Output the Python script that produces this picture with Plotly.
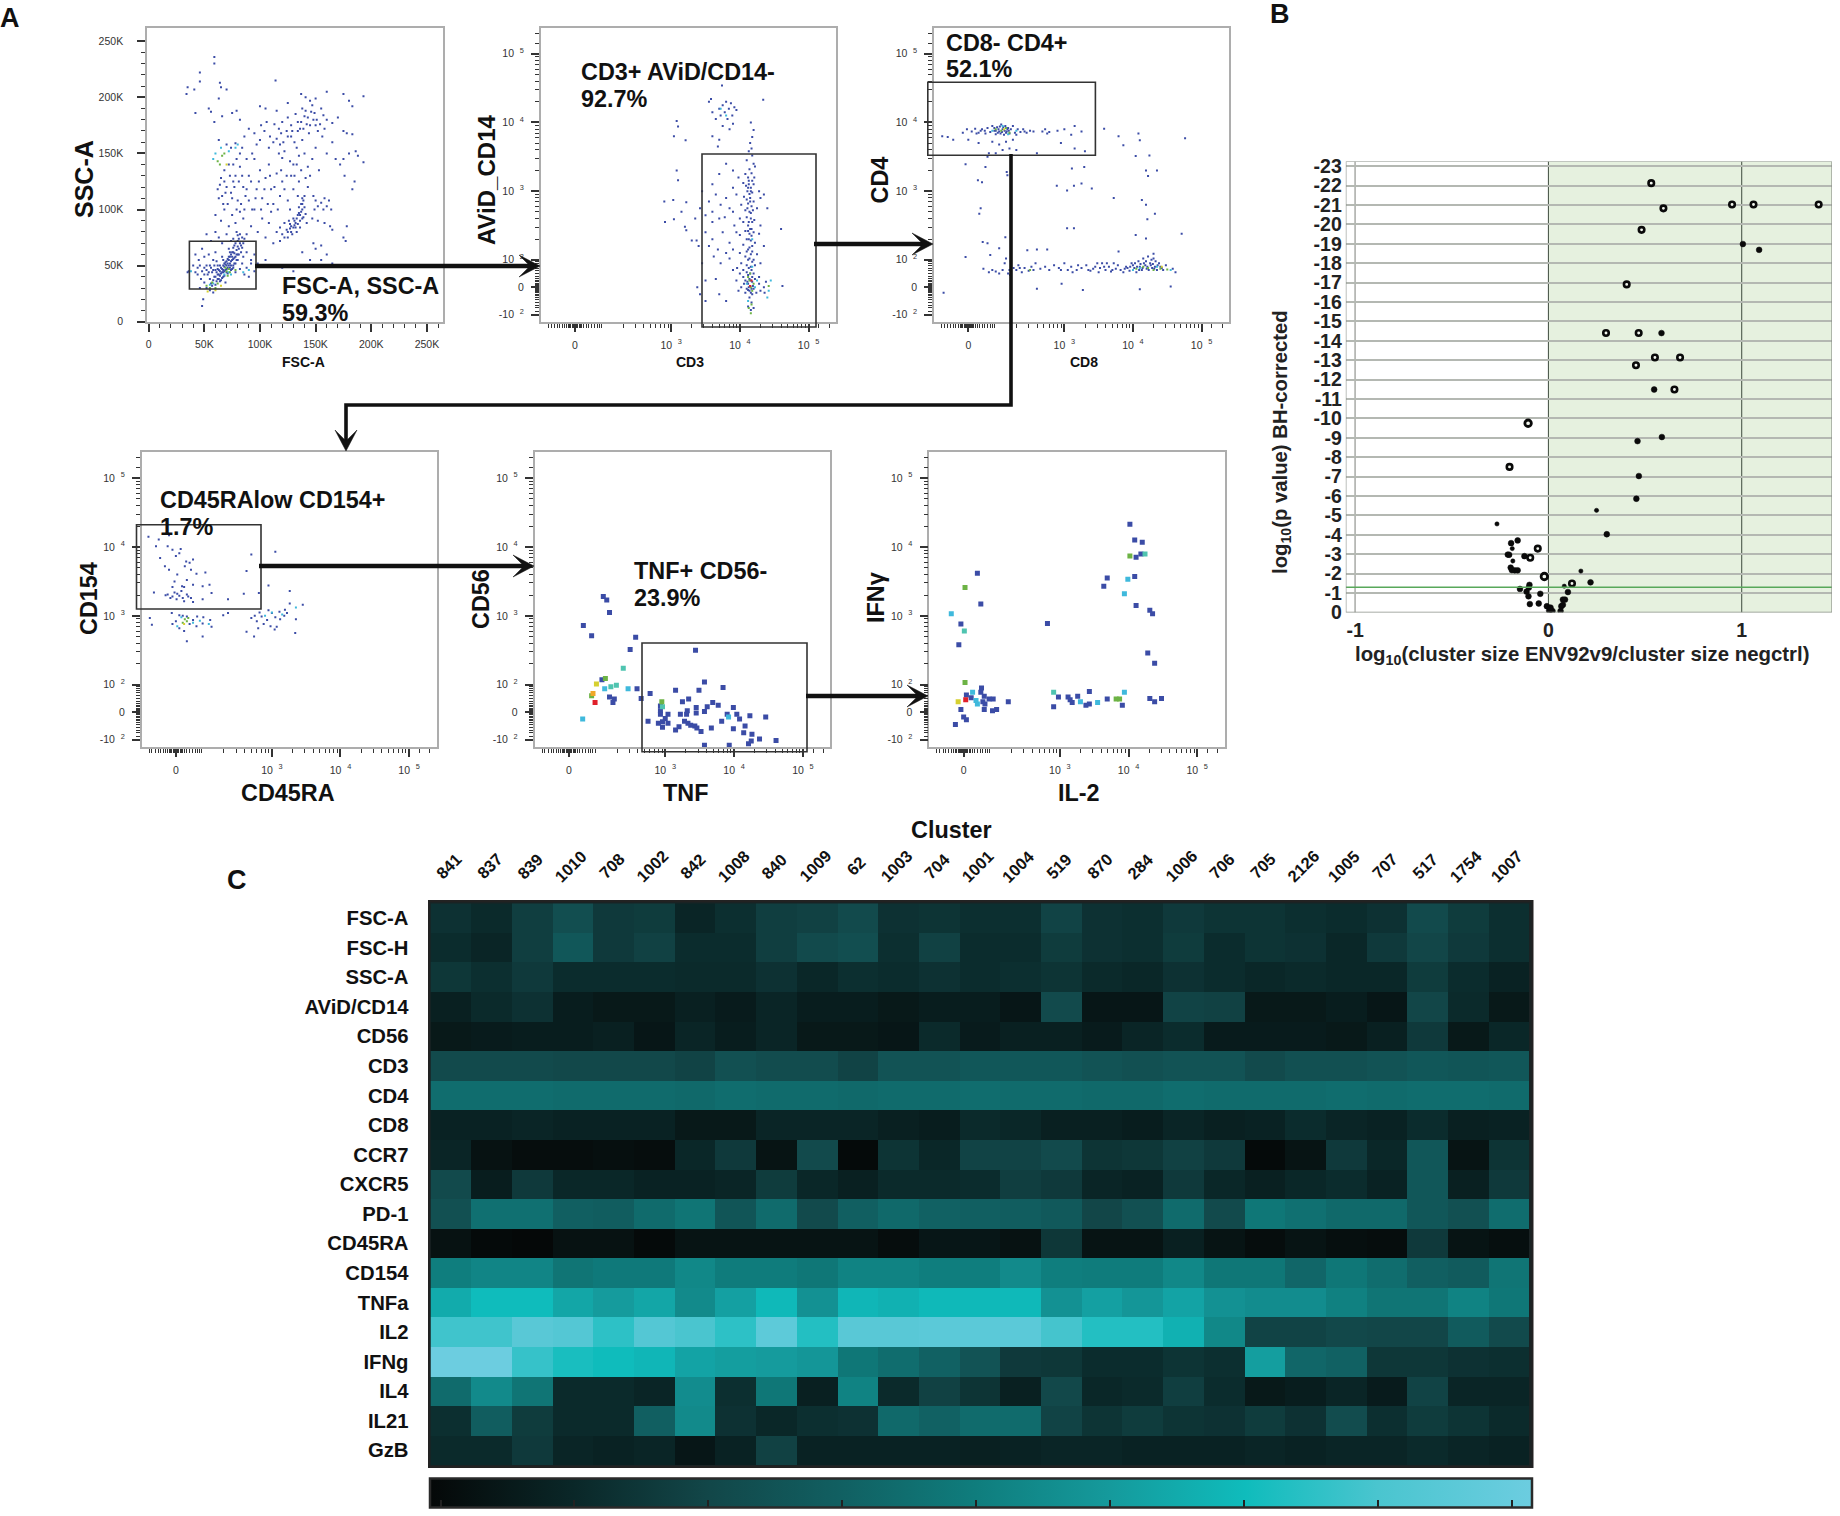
import numpy as np
import plotly.graph_objects as go

W, H = 1840, 1516
FONT = "Liberation Sans"

# ----------------------------------------------------------------------------
# Panel A data. FSC/SSC panel is in thousands, the
# others in display decades of the biexponential axis (3 = 10^3, 1.6 = 0)
# ----------------------------------------------------------------------------

fsc_blue = [
    (59,236),(59,230),(46,222),(46,214),(35,209),(41,207),(34,203),(64,213),(65,209),(70,207),(114,215),(63,199),
    (54,190),(56,187),(42,186),(59,178),(66,183),(75,186),(79,188),(82,180),(100,192),(105,190),(115,188),(125,195),
    (137,203),(141,200),(145,197),(150,199),(160,205),(175,203),(180,197),(183,192),(193,201),
    (120,178),(125,182),(128,175),(132,185),(134,178),(136,172),(138,190),(140,183),(142,176),(144,168),(146,187),
    (148,180),(150,175),(152,170),(155,190),(157,184),(158,172),(160,180),(165,177),(170,182),(175,170),(178,168),
    (183,167),(188,148),(186,152),(180,150),(175,145),(193,142),(185,125),(183,118),(176,130),(172,140),
    (63,162),(70,158),(74,155),(78,159),(82,150),(86,165),(90,172),(95,168),(100,162),(104,170),(108,155),(112,160),
    (115,163),(117,150),(118,158),(120,146),(122,152),(125,165),(127,143),(129,170),(130,140),(133,155),(135,148),
    (138,162),(140,150),(143,138),(147,145),(150,155),(153,135),(160,150),(165,160),(168,145),
    (65,128),(68,135),(70,120),(72,140),(74,115),(76,125),(78,130),(80,108),(82,138),(85,120),(87,112),(90,130),
    (92,125),(95,145),(97,118),(100,135),(102,110),(105,128),(108,140),(110,118),(112,105),(115,132),(118,112),
    (120,125),(125,108),(128,130),(130,118),(133,140),(135,125),(138,105),(140,112),(143,120),
    (148,112),(150,108),(152,103),(155,106),(157,100),(158,110),(160,103),(162,108),(164,100),(149,100),
    (115,80),(118,84),(120,78),(122,88),(124,82),(126,90),(128,85),(130,92),(132,88),(134,95),(136,90),(138,100),
    (133,80),(129,78),(125,75),(127,83),(131,86),(135,97),(137,105),(139,93),(122,75),(118,72),
    (60,95),(65,90),(68,100),(72,85),(75,95),(78,88),(82,98),(85,92),(88,78),(92,85),(95,100),(98,80),(102,92),
    (105,75),(108,88),(110,98),(112,70),(142,88),(147,92),(152,90),(158,88),(163,85),(165,82),(177,72),(175,75),
    (178,85),(148,70),(150,65),(155,68),(160,60),(138,62),(145,55),(155,55),(165,52),
    (52,78),(56,72),(60,80),(63,75),(66,70),(70,78),(74,72),(77,68),(79,80),(81,74),(76,62),(72,65),(80,60),(83,68),
    (85,58),(88,62),(92,55),(95,60),(98,52),(105,55),(110,50),(120,48),(130,45),
    (42,60),(45,55),(40,50),(48,65),(50,58),(52,50),(54,60),(56,48),(58,55),(60,62),(62,50),(64,45),(66,58),(68,52),
    (70,47),(72,55),(74,60),(76,50),(78,44),(80,55),(82,47),(84,52),(86,42),(88,48),(90,40),(44,42),(47,38),(50,35),
    (53,42),(55,38),(57,32),(59,40),(61,36),(63,42),(65,37),(67,40),(69,35),(52,30),(55,28),(58,26),(46,30),(92,52),
    (95,45),(36,45),(35,44),(62,47),(64,50),(65,43),(66,47),(67,44),(68,49),(69,46),(70,50),(71,43),(72,47),(73,52),
    (74,46),(75,55),(76,48),(77,57),(78,52),(79,60),(75,62),(73,58),(71,56),(69,53),(67,55),(48,14),(49,20),
    (60,40),(61,44),(62,42),(63,46),(63,38),(64,41),(65,48),(66,44),(66,39),(67,50),(67,46),(68,45),(68,41),(69,51),
    (70,44),(70,54),(71,48),(71,52),(72,50),(72,58),(73,48),(73,62),(74,54),(74,50),(75,58),(75,47),(76,56),(76,66),
    (77,52),(77,61),(78,58),(78,70),(79,55),(79,64),(80,67),(80,72),(81,60),(81,65),(82,70),(83,62),(84,66),(85,70),
    (86,74),(84,75),(80,77),(76,74),(82,78),
    (50,42),(52,46),(54,44),(55,50),(57,44),(58,46),(59,50),(60,46),(61,54),(48,45),(46,50),(44,48),(42,44),(50,48),
    (56,34),(58,37),(60,33),(62,38),(64,36),
    (125,80),(127,87),(128,80),(130,84),(131,90),(132,84),(133,92),(134,87),(135,102),(136,95),(136,84),(137,98),
    (138,92),(139,108),(140,102),(141,96),(138,110),
    (62,118),(63,110),(64,122),(66,112),(67,105),(68,125),(69,115),(71,105),(73,130),(75,110),(77,120),(79,100),
    (81,125),(83,105),(84,130),(86,100),(88,118),(90,108),(93,100),(96,110),(99,125),(101,100),(104,118),(107,105),
    (109,130),(113,120),(116,100),(119,135),(122,118),(124,130),(127,100),(131,130),(134,112),(137,135),(141,128),(145,130),
    (128,165),(131,160),(134,170),(137,178),(139,172),(141,188),(143,182),(145,175),(147,193),(149,186),(151,180),
    (154,176),(156,165),(124,170),(121,160),(119,168),(117,172),(113,176),(109,165),(106,178),(101,175),(97,158),
    (93,150),(88,145),(84,155),(79,145),(76,140),
]
fsc_cyan = [(55,33),(58,34),(72,44),(68,42),(74,42),(85,44),(90,46),(60,150),(58,145),(65,155),(72,152),(38,45),(80,158),(78,155)]
fsc_green = [(70,45),(72,47),(69,48),(73,44),(78,46),(71,41),(52,32),(55,30),(57,35),(60,30),(62,34),(66,148),(62,143),(68,150),(64,140)]
fsc_yellow = [(60,28),(65,32),(53,27),(70,140)]

cd3_blue = [
    (4.15,3.7),(4.17,3.62),(4.13,3.58),(4.18,3.52),(4.1,3.45),(4.2,3.4),(4.14,3.32),(4.22,3.36),(4.08,3.25),(4.12,3.2),
    (4.17,3.26),(4.21,3.2),(4.05,3.12),(4.09,3.08),(4.13,3.1),(4.16,3.05),(4.2,3.1),(4.28,3.0),(4.11,3.0),(4.14,2.96),
    (4.18,2.98),(4.06,2.92),(4.1,2.88),(4.15,2.9),(4.2,2.85),(4.3,2.9),(4.12,2.82),(4.17,2.78),(4.02,2.8),(4.08,2.72),
    (4.14,2.7),(4.19,2.72),(4.25,2.75),(4.1,2.62),(4.16,2.6),(4.21,2.58),(4.05,2.55),(4.12,2.5),(4.17,2.45),(4.08,2.42),
    (4.14,2.38),(4.2,2.4),(3.95,2.4),(4.0,2.36),(4.28,2.38),(4.1,2.3),(4.16,2.28),(4.22,2.25),(4.05,2.22),(4.12,2.15),
    (4.18,2.12),(4.0,2.1),(4.08,2.05),(4.14,2.02),(4.2,2.0),(4.25,2.08),(4.02,1.95),(3.96,1.88),(4.1,1.92),(4.16,1.9),
    (4.22,1.92),(4.05,1.85),(4.12,1.78),(4.15,1.8),(4.18,1.75),(4.08,1.7),(4.12,1.65),(4.15,1.62),(4.18,1.68),(4.1,1.58),
    (4.14,1.55),(4.18,1.5),(4.08,1.52),(4.02,1.6),(3.98,1.55),(4.28,1.65),(4.3,1.55),(4.14,1.45),(4.17,1.38),(4.12,1.32),
    (4.16,1.27),(4.2,1.3),
    (3.35,2.6),(3.42,2.75),(3.5,2.65),(3.55,2.85),(3.6,2.7),(3.65,2.95),(3.72,2.8),(3.78,2.62),(3.8,2.9),(3.85,2.75),
    (3.9,3.05),(3.5,2.4),(3.6,2.3),(3.68,2.15),(3.75,2.4),(3.85,2.25),(3.92,2.5),(3.62,2.05),(3.72,1.95),(3.85,2.02),
    (3.4,2.2),(3.45,1.95),(3.38,1.6),(3.42,1.5),(3.5,1.4),(3.7,1.5),(3.8,1.4),(3.6,3.1),(3.7,3.25),(3.8,3.4),(3.9,3.3),(3.45,3.0),
    (3.6,4.15),(3.65,4.05),(3.7,4.2),(3.72,4.1),(3.75,4.25),(3.78,4.15),(3.8,4.3),(3.82,4.05),(3.84,4.2),(3.87,4.28),
    (3.89,4.1),(3.92,4.22),(3.95,4.18),(3.75,3.95),(3.85,3.9),(3.9,3.98),(3.7,3.75),(3.6,3.8),(3.68,3.65),(3.55,4.3),
    (3.74,4.54),(3.58,4.34),(4.34,4.33),(4.16,4.0),(4.2,3.89),(4.18,3.79),
    (3.08,4.02),(3.1,3.94),(3.04,3.8),(3.21,3.74),(3.08,3.3),(3.1,3.16),(2.9,2.85),(3.03,2.87),(3.22,2.84),(3.15,2.7),
    (2.91,2.55),(3.04,2.59),(3.2,2.48),(3.22,2.43),(3.3,2.28),(3.37,2.28),(4.6,2.45),(4.62,1.62),
    (4.13,3.15),(4.16,3.0),(4.18,3.15),(4.12,3.05),(4.15,2.85),(4.11,2.75),(4.16,2.68),(4.18,2.55),(4.13,2.55),(4.15,2.45),
    (4.12,2.42),(4.17,2.35),(4.13,2.3),(4.18,2.2),(4.14,2.18),(4.1,2.12),(4.16,2.08),(4.12,2.0),(4.18,1.97),(4.13,1.88),
    (4.17,1.85),(4.1,1.82),(4.2,1.8),(4.14,1.72),(4.16,1.7),(4.11,1.68),(4.19,1.62),(4.13,1.6),(4.17,1.58),(4.12,1.56),
    (4.16,1.52),(4.2,1.58),(4.22,1.72),(4.06,1.65),(4.05,1.75),(4.24,1.52),(4.28,1.75),(4.35,1.6),(4.38,1.68),(4.36,1.52),
    (3.95,1.7),(4.0,1.8),(3.9,1.85),(4.3,1.95),(4.35,2.2),(4.3,2.5),(4.4,2.75),(4.35,2.95),(3.9,2.7),(3.95,2.95),(3.98,3.2),
    (3.7,2.6),(3.6,2.55),(3.55,2.2),(3.8,2.1),(3.9,2.15),(4.0,2.6),(3.65,1.72),(3.5,1.7),
]
cd3_cyan = [(4.1,1.65),(4.22,1.6),(4.25,1.7),(4.42,1.55),(4.45,1.7),(4.4,1.45),(4.18,1.9),(4.12,1.4),(3.72,4.2),(3.8,4.1),(4.18,2.3)]
cd3_green = [(4.14,1.7),(4.16,1.6),(4.2,1.65),(4.12,1.75),(4.15,1.8),(4.18,1.55),(4.17,1.35),(4.13,1.3),(4.16,1.22),(4.42,1.62)]
cd3_red = [(4.15,1.62),(4.17,1.7)]

cd8_blue = [
    (1.22,3.8),(1.3,3.79),(1.38,3.75),(1.52,3.85),(1.58,3.9),(1.65,3.87),(1.7,3.91),(1.75,3.85),(1.8,3.9),(1.85,3.84),
    (1.88,3.92),(1.92,3.86),(1.95,3.95),(1.98,3.88),(2.0,3.83),(2.02,3.93),(2.05,3.87),(2.08,3.97),(2.1,3.9),(2.12,3.82),
    (2.14,3.95),(2.16,3.87),(2.18,3.92),(2.2,3.84),(2.22,3.9),(2.25,3.95),(2.28,3.85),(2.32,3.9),(2.36,3.86),(2.4,3.9),
    (2.45,3.85),(2.55,3.87),(2.68,3.87),(2.72,3.9),(2.78,3.86),(3.0,3.9),(3.1,3.82),(3.15,3.95),(3.25,3.87),
    (1.6,3.75),(1.75,3.7),(1.95,3.72),(2.05,3.68),(2.15,3.72),(2.2,3.62),(2.1,3.6),(2.0,3.55),(2.3,3.6),(2.6,3.55),
    (2.95,3.7),(3.15,3.62),(3.3,3.58),(1.9,3.55),(2.25,3.75),
    (1.88,3.5),(1.85,3.35),(1.56,3.39),(1.74,3.16),(1.8,3.13),(1.78,2.75),(1.76,2.67),(2.16,3.28),(2.17,3.23),
    (3.58,3.91),(3.79,3.8),(4.08,3.84),(4.1,3.74),(3.86,3.67),(4.04,3.51),(4.24,3.52),(4.76,3.77),(4.19,3.3),(4.35,3.3),
    (4.22,3.22),(3.72,2.9),(4.13,2.87),(4.19,2.8),(4.32,2.67),(4.21,2.59),(3.11,3.33),(3.29,3.35),(2.89,3.08),(3.04,3.01),
    (3.14,3.08),(3.25,3.11),(3.4,3.04),(3.04,2.46),(3.14,2.46),(4.04,2.36),(4.19,2.31),(4.71,2.38),
    (1.81,2.26),(1.88,2.24),(1.92,2.07),(2.05,2.17),(1.56,2.04),(2.14,2.33),
    (1.82,1.87),(1.9,1.82),(1.95,1.85),(2.0,1.83),(2.05,1.8),(2.1,1.85),(2.13,1.95),(2.15,2.02),(2.18,1.8),(2.22,1.98),
    (2.26,1.88),(2.3,1.85),(2.33,1.92),(2.38,1.82),(2.42,1.88),(2.48,1.84),(2.52,1.9),(2.58,1.95),(2.65,1.87),(2.72,1.9),
    (2.78,1.85),(2.85,1.92),(2.92,1.88),(3.0,1.95),(3.05,1.85),(3.1,1.9),(3.18,1.85),(3.25,1.88),(3.32,1.92),(3.38,1.84),
    (3.45,1.9),(3.5,1.82),(3.55,1.95),(3.6,1.85),(3.65,1.9),(3.68,1.83),(3.72,1.95),(3.75,1.87),(3.78,1.92),(3.82,1.85),
    (3.86,1.82),(3.9,1.9),(3.95,1.84),(3.98,1.95),(4.02,1.88),(4.05,1.82),(4.08,1.98),(4.1,1.9),(4.13,1.85),(4.15,2.02),
    (4.18,1.92),(4.2,1.87),(4.22,2.05),(4.25,1.95),(4.28,1.88),(4.3,2.02),(4.32,1.9),(4.35,1.85),(4.38,1.95),(4.42,1.88),
    (4.48,1.92),(4.62,1.82),(4.58,1.87),
    (1.24,1.52),(2.6,1.58),(2.96,1.65),(3.27,1.56),(4.1,1.57),(4.55,1.61),(2.21,1.78),(2.46,2.14),(2.6,2.15),(2.75,2.15),(3.79,2.12),(4.3,2.09),
    (1.98,3.92),(2.0,3.88),(2.03,3.85),(2.04,3.9),(2.06,3.94),(2.07,3.84),(2.09,3.86),(2.11,3.93),(2.13,3.88),(2.15,3.85),
    (2.17,3.9),(2.19,3.88),(1.72,3.84),(1.78,3.88),(1.84,3.88),(2.3,3.82),(2.42,3.87),(2.5,3.88),(2.75,3.84),(2.9,3.88),
    (3.88,1.87),(3.92,1.88),(3.96,1.9),(4.0,1.92),(4.03,1.95),(4.06,1.9),(4.09,1.85),(4.11,1.94),(4.14,1.88),(4.16,1.95),
    (4.19,1.98),(4.21,1.9),(4.23,1.85),(4.26,1.92),(4.27,2.0),(4.29,1.94),(4.31,1.87),(4.33,1.98),(4.36,1.92),(4.4,1.9),
    (4.44,1.85),(3.35,1.85),(3.42,1.87),(3.48,1.95),(3.52,1.88),(3.58,1.9),(3.62,1.95),(3.7,1.85),(3.2,1.92),(3.12,1.82),
    (2.95,1.85),(2.55,1.85),(2.35,1.88),(2.2,1.85),
]
cd8_cyan = [(4.0,1.85),(4.1,1.88),(4.35,1.9),(4.55,1.85),(1.95,3.88),(2.1,3.95),(2.18,3.83),(2.3,3.88)]
cd8_green = [(4.05,1.87),(4.15,1.9),(4.22,1.88),(4.3,1.85),(4.4,1.87),(4.5,1.86),(2.0,3.9),(2.08,3.88),(2.15,3.92),(2.2,3.85),(2.5,1.85)]
cd8_yellow = [(4.42,1.9),(2.12,3.9)]

cd45_blue = [
    (1.2,4.15),(1.35,4.11),(1.5,4.17),(1.31,4.01),(1.48,4.01),(1.67,3.97),(1.55,3.96),(1.65,3.91),(1.6,3.87),(1.37,3.84),
    (1.75,3.79),(1.8,3.77),(1.85,3.82),(2.7,3.89),(3.05,3.93),(1.44,3.72),(1.5,3.67),(1.73,3.72),(1.82,3.67),(1.9,3.61),
    (2.03,3.63),(2.63,3.65),(1.58,3.5),(1.76,3.52),(1.69,3.43),(1.85,3.45),(1.99,3.43),(2.09,3.45),(2.12,3.33),(1.28,3.34),
    (1.48,3.31),(1.58,3.34),(1.65,3.29),(1.76,3.31),(1.52,3.26),(1.61,3.24),(1.72,3.21),(1.82,3.26),(1.85,3.2),(1.99,3.24),
    (2.36,3.24),(2.59,3.32),(2.81,3.33),(2.95,3.44),(3.26,3.36),
    (1.22,2.97),(1.25,2.87),(1.54,3.04),(1.65,3.01),(1.76,2.99),(1.85,2.94),(1.91,2.99),(1.99,2.89),(2.1,2.94),(2.12,2.84),
    (1.76,2.63),(1.99,2.7),(2.29,3.01),(2.36,3.04),(2.7,2.97),(2.78,2.92),(2.85,2.99),(2.93,2.94),(3.0,3.04),(3.07,2.84),
    (3.11,3.06),(3.19,3.09),(3.22,3.04),(3.35,2.95),(3.45,3.16),(3.26,3.18),(2.74,2.7),(3.04,2.8),(3.34,2.75),(2.63,2.77),
    (1.45,3.3),(1.55,3.28),(1.62,3.32),(1.7,3.26),(1.78,3.28),(1.68,3.36),(1.72,3.42),(1.55,3.42),(1.62,3.6),(1.7,3.0),
    (1.6,2.92),(1.55,2.88),(1.8,2.88),(1.9,2.85),(2.0,2.98),(1.65,2.82),(1.72,2.78),(2.75,3.0),(2.82,3.05),(2.88,2.88),
    (2.95,3.08),(3.05,2.98),(3.12,2.95),(3.18,3.0),(2.8,2.82),(2.98,2.85),
]
cd45_cyan = [(1.62,2.85),(1.68,2.98),(1.85,2.9),(1.95,2.93),(2.08,2.88),(2.9,3.0),(3.0,3.05),(3.15,3.02),(3.35,3.12)]
cd45_green = [(1.73,2.95),(1.76,2.92),(1.7,2.9),(1.78,2.97)]
cd45_yellow = [(1.72,2.88)]

tnf_blue = [
    (2.10,3.28),(2.15,3.23),(2.19,3.05),(1.81,2.86),(1.93,2.71),(2.57,2.69),(2.49,2.51),(3.44,2.5),
    (2.08,2.07),(2.59,1.94),(2.19,1.82),(2.26,1.79),(2.24,1.74),(2.65,1.8),(2.78,1.87),(3.15,1.92),(3.57,2.04),(3.49,1.92),(3.84,1.96),
    (3.34,1.79),(3.25,1.75),(3.45,1.67),(3.32,1.62),(3.22,1.57),(3.31,1.57),(3.45,1.59),(3.57,1.61),(3.61,1.68),(3.69,1.74),
    (3.77,1.7),(3.99,1.67),(3.9,1.57),(4.04,1.57),(4.08,1.5),(4.23,1.55),(4.46,1.53),(3.82,1.47),(3.99,1.36),(4.16,1.4),
    (4.14,1.3),(4.26,1.28),(4.37,1.21),(4.61,1.19),(4.25,1.18),(4.21,1.14),(3.93,1.12),(3.57,1.12),
    (2.93,1.69),(2.93,1.62),(2.93,1.57),(3.04,1.57),(3.0,1.51),(2.75,1.47),(2.9,1.44),(2.96,1.46),(3.04,1.44),(2.96,1.38),
    (3.15,1.34),(3.2,1.39),(3.28,1.47),(3.33,1.44),(3.37,1.41),(3.43,1.4),(3.46,1.37),(3.52,1.32),(3.67,1.37),
]
tnf_cyan = [(2.46,1.94),(2.12,1.94),(1.8,1.5),(3.92,1.53)]
tnf_teal = [(2.39,2.24),(2.29,1.99),(2.21,1.97),(2.96,1.68)]
tnf_green = [(2.13,2.09),(2.95,1.75),(1.93,1.84)]
tnf_yellow = [(2.0,2.01)]
tnf_orange = [(1.95,1.87)]
tnf_red = [(1.98,1.74)]

il2_blue = [
    (4.02,4.33),(4.09,4.1),(4.2,4.07),(4.11,3.85),(4.18,3.9),(4.09,3.57),(3.69,3.55),(3.64,3.43),(4.11,3.15),(4.31,3.08),
    (4.35,3.03),(2.82,2.89),(4.28,2.46),(4.38,2.31),(1.8,3.62),(1.85,3.17),(1.56,2.88),(1.53,2.58),
    (1.86,1.95),(1.85,1.89),(1.64,1.85),(1.71,1.81),(1.9,1.83),(1.88,1.75),(1.91,1.72),(1.97,1.79),(2.03,1.79),(2.25,1.75),
    (1.9,1.64),(2.02,1.62),(2.08,1.64),(1.56,1.64),(1.6,1.53),(1.64,1.49),(1.48,1.42),
    (2.98,1.82),(2.91,1.68),(3.12,1.82),(3.15,1.78),(3.18,1.74),(3.26,1.83),(3.43,1.9),(3.43,1.72),(3.38,1.7),(3.69,1.79),
    (3.91,1.7),(4.31,1.8),(4.38,1.75),(4.48,1.8),
]
il2_cyan = [(3.99,3.53),(3.94,3.32),(1.42,3.03),(1.73,1.89),(1.78,1.77),(1.8,1.72),(3.3,1.75),(3.55,1.74),(3.94,1.89)]
il2_teal = [(4.24,3.9),(1.61,2.78),(2.91,1.89)]
il2_green = [(4.02,3.87),(1.62,3.41),(1.62,2.03),(3.82,1.79),(3.87,1.79)]
il2_yellow = [(1.52,1.75)]
il2_red = [(1.63,1.78)]

# ----------------------------------------------------------------------------
# Panel B data
# ----------------------------------------------------------------------------

volcano_open = [
    (.532,-22.13),(.595,-20.83),(.95,-21.03),(1.061,-21.03),(1.398,-21.03),(.482,-19.72),(.405,-16.91),(.298,-14.4),
    (.467,-14.4),(.551,-13.14),(.681,-13.14),(.453,-12.74),(.652,-11.49),(-.201,-7.5),(-.055,-3.29),
    (-.094,-2.82),(.122,-1.49),
]
volcano_open_big = [(-.105,-9.75),(-.021,-1.85)]
volcano_filled = [
    (1.006,-18.99),(1.09,-18.69),(.585,-14.4),(.547,-11.49),(.587,-9.04),(.461,-8.83),(.468,-7.03),(.455,-5.86),(.302,-4.03),
    (-.159,-3.71),(-.193,-3.57),(-.21,-2.98),(-.203,-2.97),(-.124,-2.9),(-.195,-2.31),(-.189,-2.18),(-.174,-2.17),(-.159,-2.17),
    (.218,-1.55),(-.098,-1.42),(-.101,-1.28),(-.147,-1.21),(-.113,-1.07),(.101,-1.05),(-.042,-.96),(-.103,-.83),(.075,-.66),
    (.086,-.66),(-.096,-.43),(-.05,-.46),(.067,-.32),(.075,-.39),(-.008,-.32),(.011,-.25),(.004,-.09),(.021,-.07),(.063,-.07),(.011,-.14),
]
volcano_small = [(.249,-5.26),(-.266,-4.56),(-.187,-3.29),(-.184,-2.65),(.168,-2.13),(.082,-1.35)]
volcano_ticks = list(range(-23, 1))
volcano_labels = [f"<b>{v}</b>" for v in volcano_ticks]

# ----------------------------------------------------------------------------
# Panel C data
# ----------------------------------------------------------------------------

clusters = ["841","837","839","1010","708","1002","842","1008","840","1009","62","1003","704","1001",
            "1004","519","870","284","1006","706","705","2126","1005","707","517","1754","1007"]
markers = ["FSC-A","FSC-H","SSC-A","AViD/CD14","CD56","CD3","CD4","CD8","CCR7","CXCR5","PD-1","CD45RA",
           "CD154","TNFa","IL2","IFNg","IL4","IL21","GzB"]

fsc_a = [.17,.14,.22,.29,.2,.21,.12,.16,.22,.23,.27,.17,.18,.16,.16,.24,.17,.16,.2,.18,.18,.16,.15,.17,.27,.21,.16]
fsc_h = [.15,.12,.22,.33,.2,.23,.15,.15,.22,.27,.29,.16,.23,.15,.15,.21,.17,.16,.21,.15,.18,.17,.13,.2,.25,.2,.16]
ssc_a = [.19,.16,.2,.15,.15,.15,.14,.14,.17,.13,.16,.15,.17,.15,.16,.18,.14,.13,.17,.15,.13,.14,.13,.13,.21,.15,.11]
avid = [.1,.14,.17,.09,.07,.07,.1,.08,.12,.09,.09,.07,.09,.09,.06,.27,.06,.06,.24,.23,.07,.07,.09,.06,.25,.14,.07]
cd56 = [.07,.08,.09,.09,.1,.06,.12,.09,.12,.07,.07,.06,.14,.08,.1,.1,.08,.12,.15,.08,.08,.08,.07,.1,.2,.07,.13]
cd3 = [.27,.27,.27,.26,.26,.26,.24,.3,.28,.28,.24,.31,.31,.33,.33,.33,.31,.3,.31,.31,.27,.3,.3,.31,.33,.32,.33]
cd4 = [.43,.43,.43,.42,.42,.42,.41,.43,.42,.42,.41,.42,.42,.43,.42,.42,.41,.41,.43,.42,.42,.42,.43,.42,.43,.43,.42]
cd8 = [.11,.11,.12,.11,.11,.11,.07,.07,.12,.12,.12,.1,.09,.14,.13,.1,.1,.09,.12,.1,.11,.15,.12,.11,.15,.1,.11]
ccr7 = [.12,.04,.02,.02,.03,.02,.13,.2,.05,.27,.01,.18,.13,.24,.24,.27,.18,.19,.23,.2,.01,.05,.2,.13,.33,.05,.18]
cxcr5 = [.27,.09,.2,.13,.13,.11,.11,.12,.21,.13,.1,.14,.14,.15,.22,.2,.12,.11,.2,.13,.1,.13,.15,.11,.33,.1,.2]
pd1 = [.3,.44,.44,.37,.36,.42,.46,.32,.42,.27,.37,.41,.38,.37,.36,.34,.25,.3,.42,.27,.47,.44,.41,.41,.33,.3,.43]
cd45ra = [.04,.01,0,.04,.04,.01,.05,.05,.05,.05,.05,.02,.06,.06,.04,.19,.05,.05,.1,.05,.02,.05,.03,.02,.2,.05,.03]
cd154 = [.5,.53,.53,.46,.48,.48,.54,.49,.49,.47,.52,.52,.5,.5,.55,.5,.49,.49,.54,.47,.47,.4,.47,.43,.37,.35,.46]
tnfa = [.68,.74,.74,.66,.62,.66,.55,.64,.73,.58,.72,.7,.73,.73,.73,.58,.64,.6,.65,.58,.56,.56,.51,.46,.46,.52,.47]
il2 = [.84,.84,.92,.9,.8,.9,.86,.8,.94,.78,.92,.92,.93,.93,.93,.85,.78,.78,.7,.54,.24,.24,.26,.25,.25,.35,.27]
ifng = [1,1,.82,.76,.74,.72,.65,.63,.62,.6,.47,.43,.38,.31,.2,.19,.15,.15,.18,.16,.63,.4,.38,.19,.19,.17,.16]
il4 = [.42,.55,.46,.14,.14,.12,.56,.16,.47,.1,.52,.14,.23,.18,.1,.26,.13,.14,.22,.15,.07,.09,.12,.08,.24,.12,.12]
il21 = [.16,.36,.21,.14,.14,.37,.55,.17,.13,.16,.17,.41,.38,.42,.42,.24,.18,.21,.18,.17,.21,.17,.28,.16,.21,.18,.14]
gzb = [.14,.14,.2,.12,.11,.12,.06,.11,.23,.11,.11,.11,.11,.1,.11,.12,.12,.11,.11,.11,.12,.11,.12,.12,.14,.12,.11]

heat_rows = [fsc_a, fsc_h, ssc_a, avid, cd56, cd3, cd4, cd8, ccr7, cxcr5, pd1, cd45ra, cd154, tnfa, il2, ifng, il4, il21, gzb]

heat_colors = [
    [0.0, "#050808"], [0.13, "#0a2728"], [0.25, "#124648"], [0.37, "#115f61"], [0.495, "#0f7d7d"],
    [0.617, "#159a9c"], [0.74, "#0fbcbc"], [0.86, "#4ac5cf"], [1.0, "#6ccde0"],
]

BLUE = "#3b4ca6"
CYAN = "#3fb9dc"
TEAL = "#4fc4b0"
GREEN = "#6db345"
YELLOW = "#d6d030"
ORANGE = "#f0a828"
RED = "#e0202a"

# ----------------------------------------------------------------------------
# Helpers, all layout positions are page pixels
# ----------------------------------------------------------------------------

def px(x):
    return x / W


def py(y):
    return 1 - y / H


def text(x, y, s, size=23.4, bold=True, anchor="left", angle=0, color="#111"):
    if bold:
        s = f"<b>{s}</b>"
    return dict(x=px(x), y=py(y), xref="paper", yref="paper", text=s, showarrow=False,
                xanchor=anchor, yanchor="middle", textangle=angle,
                font=dict(family=FONT, size=size, color=color))


def gate(x0, y0, x1, y1):
    return dict(type="rect", xref="paper", yref="paper", x0=px(x0), x1=px(x1), y0=py(y0), y1=py(y1),
                line=dict(color="#333", width=1.6), layer="above")


def arrow(points, width=4.5):
    """Thick polyline ending in a stealth head, last point is the tip."""
    (x0, y0), (x1, y1) = points[-2], points[-1]
    d = np.array([x1 - x0, y1 - y0], dtype=float)
    d = d / np.hypot(*d)
    n = np.array([-d[1], d[0]])
    tip = np.array([x1, y1], dtype=float)
    a = tip - 21 * d + 11 * n
    b = tip - 10 * d
    c = tip - 21 * d - 11 * n
    line = "M " + " L ".join(f"{px(x)} {py(y)}" for x, y in points[:-1] + [tuple(b)])
    head = "M " + " L ".join(f"{px(x)} {py(y)}" for x, y in [tip, a, b, c]) + " Z"
    return [
        dict(type="path", xref="paper", yref="paper", path=line, line=dict(color="#111", width=width)),
        dict(type="path", xref="paper", yref="paper", path=head, fillcolor="#111", line=dict(color="#111", width=0.5)),
    ]


def add_dots(fig, pts, idx, color, size=2.2):
    fig.add_trace(go.Scatter(
        x=[p[0] for p in pts], y=[p[1] for p in pts], mode="markers",
        xaxis=f"x{idx}", yaxis=f"y{idx}", showlegend=False, hoverinfo="skip",
        marker=dict(symbol="square", size=size, color=color, line=dict(width=0)),
    ))


def dom(x0, y0, x1, y1):
    return [px(x0), px(x1)], [py(y1), py(y0)]


# biexponential axes, display decades
NEAR_ZERO = [1.21, 1.25, 1.3, 1.34, 1.38, 1.42, 1.45, 1.48, 1.5, 1.52, 1.54, 1.56, 1.57, 1.58, 1.585, 1.59, 1.595,
             1.605, 1.61, 1.615, 1.62, 1.63, 1.64, 1.66, 1.68, 1.7, 1.73, 1.76, 1.8, 1.84, 1.88, 1.92, 1.95, 1.98]
DECADE_MINOR = [d + np.log10(m) for d in (2, 3, 4) for m in range(2, 10)] + [5.15, 5.3]
BIEX_X_VALS = [1.6, 3, 4, 5]
BIEX_X_TEXT = ["0", "10<sup>\u2002 3</sup>", "10<sup>\u2002 4</sup>", "10<sup>\u2002 5</sup>"]
BIEX_Y_VALS = [1.2, 1.6, 2, 3, 4, 5]
BIEX_Y_TEXT = ["-10<sup>\u2002 2</sup>", "0", "10<sup>\u2002 2</sup>", "10<sup>\u2002 3</sup>",
               "10<sup>\u2002 4</sup>", "10<sup>\u2002 5</sup>"]


def flow_axes(rng, vals, labels, minor_vals, standoff):
    return dict(
        range=rng, showgrid=False, zeroline=False, showline=True, mirror=True, linecolor="#adadad", linewidth=1.5,
        ticks="outside", ticklen=8, tickwidth=1.5, tickcolor="#333", tickmode="array", tickvals=vals, ticktext=labels,
        ticklabelstandoff=standoff, tickfont=dict(family=FONT, size=10.5, color="#333"),
        minor=dict(tickmode="array", tickvals=minor_vals, ticklen=4, tickwidth=1, tickcolor="#333", ticks="outside"),
    )


fig = go.Figure()

# ----------------------------------------------------------------------------
# Panel A
# ----------------------------------------------------------------------------

flow_panels = [
    (1, 147, 27.7, 442.5, 322.3),
    (2, 540.7, 27.7, 836, 322.3),
    (3, 934, 27.7, 1229, 322.3),
    (4, 141.6, 452, 436.5, 747.3),
    (5, 534.5, 452, 830.4, 747.3),
    (6, 929.3, 452, 1224.7, 747.3),
]

dot_sets = [
    (fsc_blue, 1, BLUE, 2), (fsc_cyan, 1, CYAN, 2), (fsc_green, 1, GREEN, 2), (fsc_yellow, 1, YELLOW, 2),
    (cd3_blue, 2, BLUE, 2), (cd3_cyan, 2, CYAN, 2), (cd3_green, 2, GREEN, 2), (cd3_red, 2, RED, 2),
    (cd8_blue, 3, BLUE, 2), (cd8_cyan, 3, CYAN, 2), (cd8_green, 3, GREEN, 2), (cd8_yellow, 3, YELLOW, 2),
    (cd45_blue, 4, BLUE, 2), (cd45_cyan, 4, CYAN, 2), (cd45_green, 4, GREEN, 2), (cd45_yellow, 4, YELLOW, 2),
    (tnf_blue, 5, BLUE, 5), (tnf_cyan, 5, CYAN, 5), (tnf_teal, 5, TEAL, 5), (tnf_green, 5, GREEN, 5),
    (tnf_yellow, 5, YELLOW, 5), (tnf_orange, 5, ORANGE, 5), (tnf_red, 5, RED, 5),
    (il2_blue, 6, BLUE, 5), (il2_cyan, 6, CYAN, 5), (il2_teal, 6, TEAL, 5), (il2_green, 6, GREEN, 5),
    (il2_yellow, 6, YELLOW, 5), (il2_red, 6, RED, 5),
]
for pts, idx, color, size in dot_sets:
    add_dots(fig, pts, idx, color, size)

axes = {}
for idx, x0, y0, x1, y1 in flow_panels:
    dx, dy = dom(x0, y0, x1, y1)
    if idx == 1:
        xa = flow_axes([-1.5, 264], [0, 50, 100, 150, 200, 250], ["0", "50K", "100K", "150K", "200K", "250K"],
                       [v for v in range(10, 270, 10) if v % 50], 3)
        ya = flow_axes([-0.5, 262], [0, 50, 100, 150, 200, 250], ["0", "50K", "100K", "150K", "200K", "250K"],
                       [v for v in range(10, 260, 10) if v % 50], 12)
    else:
        xa = flow_axes([1.1, 5.4], BIEX_X_VALS, BIEX_X_TEXT, NEAR_ZERO + DECADE_MINOR, 4)
        ya = flow_axes([1.09, 5.38], BIEX_Y_VALS, BIEX_Y_TEXT, NEAR_ZERO + DECADE_MINOR, 5)
    xa.update(domain=dx, anchor=f"y{idx}")
    ya.update(domain=dy, anchor=f"x{idx}")
    axes[f"xaxis{idx}"] = xa
    axes[f"yaxis{idx}"] = ya

shapes = [
    gate(189.4, 241.3, 256, 289),
    gate(702, 154, 816, 327),
    gate(927.8, 82.3, 1095.4, 155.3),
    gate(136.5, 524.7, 261, 609),
    gate(642, 643, 807, 751.7),
]
shapes += arrow([(255, 266), (540, 266)])
shapes += arrow([(814, 244), (933, 244)])
shapes += arrow([(1011, 154), (1011, 405), (346, 405), (346, 451)], width=3.6)
shapes += arrow([(259, 566), (534, 566)])
shapes += arrow([(806, 696), (928, 696)])

annotations = [
    text(-2, 18, "A", size=27), text(1268, 14, "B", size=27), text(224.5, 880, "C", size=27),
    text(279.6, 286, "FSC-A, SSC-A"), text(279.6, 313, "59.3%"),
    text(578.6, 72, "CD3+ AViD/CD14-"), text(578.6, 99, "92.7%"),
    text(944.3, 43, "CD8- CD4+"), text(944.3, 69, "52.1%"),
    text(157.5, 500, "CD45RAlow CD154+"), text(157.5, 527, "1.7%"),
    text(631.6, 571, "TNF+ CD56-"), text(631.6, 598, "23.9%"),
    text(84, 179, "SSC-A", size=25, angle=-90, anchor="center"),
    text(486, 180, "AViD_CD14", size=24, angle=-90, anchor="center"),
    text(879.5, 180, "CD4", angle=-90, anchor="center"),
    text(89, 599, "CD154", angle=-90, anchor="center"),
    text(481, 599, "CD56", angle=-90, anchor="center"),
    text(876, 598, "IFN\u03b3", angle=-90, anchor="center"),
    text(303.7, 362, "FSC-A", size=14, anchor="center"),
    text(690, 362, "CD3", size=14, anchor="center"),
    text(1084, 362, "CD8", size=14, anchor="center"),
    text(287.5, 793, "CD45RA", anchor="center"),
    text(685.5, 793, "TNF", anchor="center"),
    text(1079, 793, "IL-2", anchor="center"),
    text(951, 830, "Cluster", anchor="center"),
    text(1582, 655, "log<sub>10</sub>(cluster size ENV92v9/cluster size negctrl)", size=20.4, anchor="center", color="#222"),
    text(1281, 442, "log<sub>10</sub>(p value) BH-corrected", size=20.3, angle=-90, anchor="center", color="#222"),
]

# cluster ids are centred on their column, tick labels would hang off the tick.
# on a category axis an annotation x is the serial number of the category
for i, c in enumerate(clusters):
    annotations.append(dict(
        x=i, y=py(866), xref="x8", yref="paper", xshift=-2, text=f"<b>{c}</b>", showarrow=False, textangle=-45,
        xanchor="center", yanchor="middle", font=dict(family=FONT, size=16.5, color="#111"),
    ))

# ----------------------------------------------------------------------------
# Panel B
# ----------------------------------------------------------------------------

volcano_groups = [
    (volcano_filled, 5.8, "#0a0a0a", 0.5),
    (volcano_small, 4.3, "#0a0a0a", 0.5),
    (volcano_open, 5.5, "#f4f8f0", 2.6),
    (volcano_open_big, 6.5, "#f4f8f0", 2.8),
]
for pts, size, fill, lw in volcano_groups:
    fig.add_trace(go.Scatter(
        x=[p[0] for p in pts], y=[p[1] for p in pts], mode="markers", xaxis="x7", yaxis="y7", showlegend=False,
        marker=dict(symbol="circle", size=size, color=fill, line=dict(color="#0a0a0a", width=lw)),
    ))

dx, dy = dom(1345.8, 161.4, 1832, 612.4)
axes["xaxis7"] = dict(
    domain=dx, anchor="y7", range=[-1.048, 1.467], tickmode="array", tickvals=[-1, 0, 1],
    ticktext=["<b>-1</b>", "<b>0</b>", "<b>1</b>"], showgrid=False, zeroline=False, showline=False, ticks="",
    tickfont=dict(family=FONT, size=19.5, color="#222"), ticklabelstandoff=4,
)
axes["yaxis7"] = dict(
    domain=dy, anchor="x7", range=[0, -23.25], tickmode="array", tickvals=volcano_ticks, ticktext=volcano_labels,
    showgrid=True, gridcolor="#b4b8b2", gridwidth=1.5, zeroline=False, showline=False, ticks="",
    tickfont=dict(family=FONT, size=19.5, color="#222"), ticklabelstandoff=3,
)
shapes += [
    dict(type="rect", xref="x7", yref="y7", x0=0, x1=1.467, y0=0, y1=-23.25, fillcolor="#e6f1df", line=dict(width=0), layer="below"),
    dict(type="line", xref="x7", yref="y7", x0=-1, x1=-1, y0=0, y1=-23.25, line=dict(color="#a8aaa6", width=1.5), layer="below"),
    dict(type="line", xref="x7", yref="y7", x0=0, x1=0, y0=0, y1=-23.25, line=dict(color="#3d4a3d", width=1), layer="below"),
    dict(type="line", xref="x7", yref="y7", x0=1, x1=1, y0=0, y1=-23.25, line=dict(color="#3d4a3d", width=1), layer="below"),
    dict(type="line", xref="x7", yref="y7", x0=-1.048, x1=1.467, y0=-1.3, y1=-1.3, line=dict(color="#58a85a", width=1.6)),
    dict(type="rect", xref="x7", yref="y7", x0=-1.048, x1=1.467, y0=0, y1=-23.25, line=dict(color="#8a8f88", width=1.2)),
]

# ----------------------------------------------------------------------------
# Panel C
# ----------------------------------------------------------------------------

shapes.insert(0, dict(type="rect", xref="paper", yref="paper", x0=px(429), x1=px(1532.5), y0=py(901), y1=py(1467),
                      fillcolor="#1a2324", line=dict(color="#222", width=2), layer="below"))

fig.add_trace(go.Heatmap(
    z=heat_rows, x=clusters, y=markers, xaxis="x8", yaxis="y8", zmin=0, zmax=1, colorscale=heat_colors,
    colorbar=dict(
        orientation="h", x=px(430), xanchor="left", y=py(1518), yanchor="bottom", len=1102 / W, thickness=29,
        xpad=0, ypad=0, outlinecolor="#2a2a2a", outlinewidth=2.5, ticks="inside", ticklen=8, tickwidth=2,
        tickcolor="#222", tickmode="array", tickvals=[.0096, .1311, .2526, .3741, .4956, .6171, .7386, .8601, .9816],
        showticklabels=False,
    ),
))
dx, dy = dom(430.5, 903.3, 1529, 1465)
axes["xaxis8"] = dict(
    domain=dx, anchor="y8", type="category", categoryorder="array", categoryarray=clusters, range=[-0.5, 26.5],
    side="top", ticks="", showgrid=False, zeroline=False, showline=False, showticklabels=False,
)
axes["yaxis8"] = dict(
    domain=dy, anchor="x8", type="category", autorange="reversed", ticks="", showgrid=False, zeroline=False,
    showline=False, tickfont=dict(family=FONT, size=20.3, color="#111"), ticklabelstandoff=21,
    tickmode="array", tickvals=markers, ticktext=[f"<b>{m}</b>" for m in markers],
)

# ----------------------------------------------------------------------------
# Layout and output
# ----------------------------------------------------------------------------

fig.update_layout(
    width=W, height=H, margin=dict(l=0, r=0, t=0, b=0, autoexpand=False), paper_bgcolor="white", plot_bgcolor="rgba(0,0,0,0)",
    showlegend=False, shapes=shapes, annotations=annotations, font=dict(family=FONT), **axes,
)

fig.write_html("out.html", config={"displayModeBar": False}, post_script="document.body.style.margin='0';")
